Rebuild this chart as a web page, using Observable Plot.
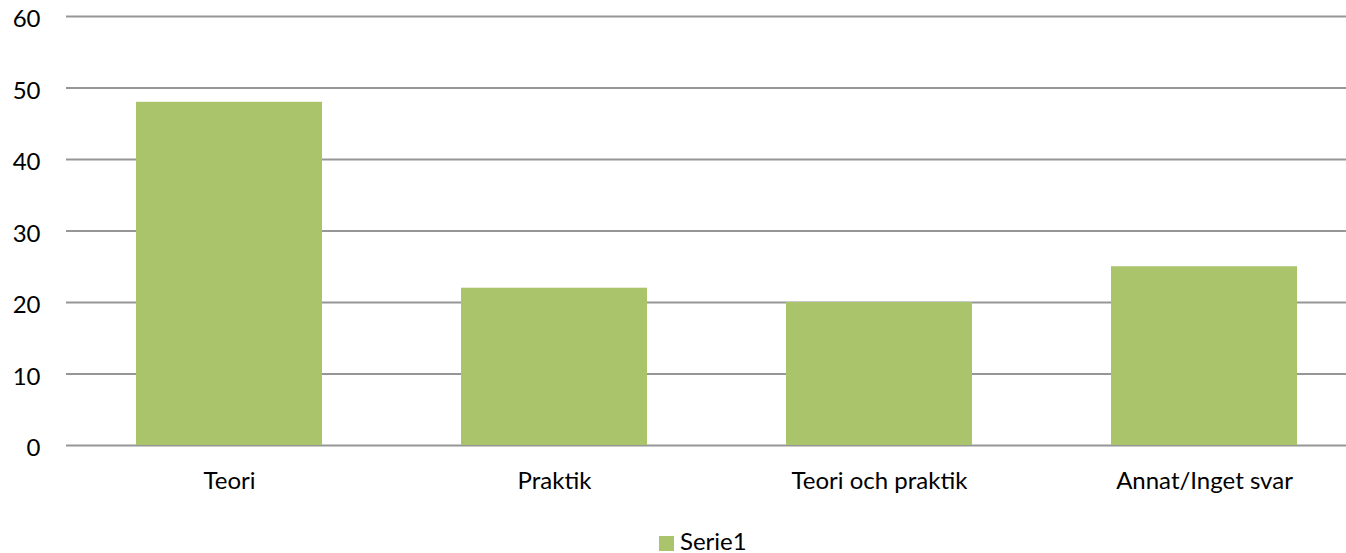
<!DOCTYPE html>
<html>
<head>
<meta charset="utf-8">
<script src="https://cdn.jsdelivr.net/npm/d3@7"></script>
<script src="https://cdn.jsdelivr.net/npm/@observablehq/plot@0.6"></script>
<style>
  html, body { margin: 0; padding: 0; background: #fff; overflow: hidden; }
  body { width: 1346px; height: 553px; position: relative; font-family: Lato, "Open Sans", sans-serif; }
  #chart svg { overflow: hidden; }
  #legend { position: absolute; left: 659px; top: 527px; display: flex; align-items: center; font-size: 24px; color: #000; line-height: 28px; }
  #legend .sw { width: 15px; height: 15px; background: #aac46b; margin-right: 6px; margin-top: 4px; }
</style>
</head>
<body>
<div id="chart"></div>
<div id="legend"><span class="sw"></span><span>Serie1</span></div>
<script>
const categories = ["Teori", "Praktik", "Teori och praktik", "Annat/Inget svar"];
const serie1 = [48, 22, 20, 25];
const yTicks = [0, 10, 20, 30, 40, 50, 60];
const seriesName = "Serie1";
const barColor = "#aac46b";

const data = categories.map((c, i) => ({category: c, value: serie1[i], series: seriesName}));

const chart = Plot.plot({
  width: 1346,
  height: 510,
  marginTop: 16,
  marginBottom: 65,
  marginLeft: 66,
  marginRight: -20,
  style: {fontFamily: "Lato, 'Open Sans', sans-serif", fontSize: "24px", color: "#000", background: "#fff"},
  x: {domain: categories, paddingInner: 0.428, paddingOuter: 0.214, label: null},
  y: {domain: [0, 60], label: null},
  marks: [
    Plot.ruleY(yTicks, {stroke: "#969696", strokeWidth: 1.8, strokeOpacity: 1}),
    Plot.barY(data, {x: "category", y: "value", fill: barColor}),
    Plot.axisY({ticks: yTicks, tickSize: 0, tickPadding: 26, label: null, fontSize: 24, dy: 3, fill: "#000"}),
    Plot.axisX({tickSize: 0, tickPadding: 26, label: null, fontSize: 24, fill: "#000"})
  ]
});
document.getElementById("chart").appendChild(chart);
</script>
</body>
</html>
